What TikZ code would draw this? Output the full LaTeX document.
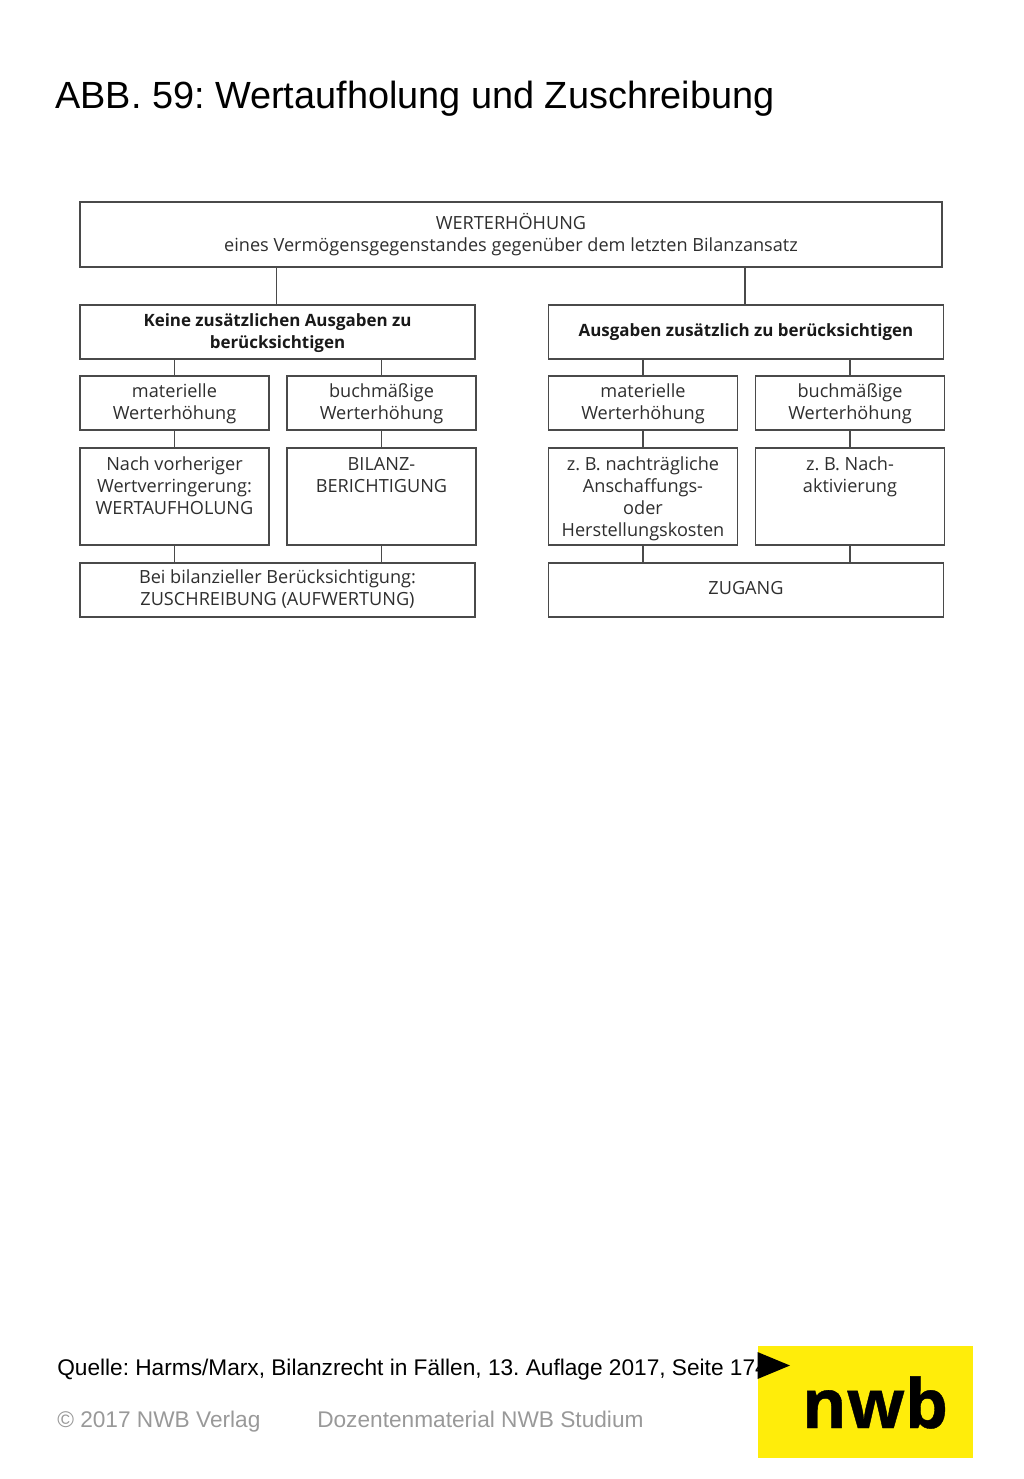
\documentclass[tikz,border=0pt]{standalone}
\usepackage{fontspec}
\setmainfont{Liberation Sans}
\newfontfamily\boxfont{Open Sans}
\newfontfamily\logofont[FakeBold=0.6]{Open Sans Bold}
\frenchspacing
\usetikzlibrary{calc}
\definecolor{ink}{HTML}{2E2E2E}
\definecolor{rule}{HTML}{4A4A4A}
\definecolor{nwbyellow}{HTML}{FFED0A}
\definecolor{foot}{HTML}{999999}
\newcommand\lnA{\rule{0pt}{14.55pt}}
\newcommand\lnT{\rule{0pt}{16.05pt}}
\newcommand\lnZ[1]{\rule[-#1]{0pt}{#1}}
\tikzset{
  x=0.75pt,y=-0.75pt,
  bx/.style={draw=rule,line width=1.2pt,rectangle,inner sep=0pt,align=center,text=ink,
     font=\boxfont\fontsize{13.6pt}{16.5pt}\selectfont},
  bxbold/.style={bx,font=\boxfont\bfseries\fontsize{12.7pt}{16.5pt}\selectfont,text=black!90},
  wide/.style={minimum width=296.5pt,minimum height=40.5pt},
  small/.style={minimum width=141.75pt,minimum height=40.5pt},
  tall/.style={minimum width=141.75pt,minimum height=72.75pt},
  conn/.style={draw=rule,line width=1.4pt},
  plain/.style={inner sep=0pt,anchor=base west},
}
\begin{document}
\begin{tikzpicture}
\useasboundingbox (0,0) rectangle (1024,1479);
\node[plain,font=\fontsize{28.4pt}{34pt}\selectfont,text=black] (title) at (55,108.3) {ABB. 59: Wertaufholung und Zuschreibung};

\node[bx,minimum width=646.5pt,minimum height=48.75pt] (top) at (511,234.5) {\lnA WERTERHÖHUNG\\eines Vermögensgegenstandes gegenüber dem letzten Bilanzansatz\lnZ{4.95pt}};

\node[bxbold,wide] (keine) at (277.5,332) {\lnA Keine zusätzlichen Ausgaben zu\\berücksichtigen\lnZ{6.45pt}};
\node[bxbold,wide] (ausg) at (746,332) {\lnA Ausgaben zusätzlich zu berücksichtigen\lnZ{7.95pt}};

\node[bx,small] (mat1) at (174.5,403) {\lnA materielle\\Werterhöhung\lnZ{6.45pt}};
\node[bx,small] (buch1) at (381.5,403) {\lnA buchmäßige\\Werterhöhung\lnZ{6.45pt}};
\node[bx,small] (mat2) at (643,403) {\lnA materielle\\Werterhöhung\lnZ{6.45pt}};
\node[bx,small] (buch2) at (850,403) {\lnA buchmäßige\\Werterhöhung\lnZ{6.45pt}};

\node[bx,tall] (nach) at (174.5,496.5) {\lnT Nach vorheriger\\Wertverringerung:\\WERTAUFHOLUNG\\~\lnZ{4.95pt}};
\node[bx,tall] (bilanz) at (381.5,496.5) {\lnT BILANZ-\\BERICHTIGUNG\\~\\~\lnZ{4.95pt}};
\node[bx,tall] (nachtr) at (643,496.5) {\lnT z. B. nachträgliche\\Anschaffungs-\\oder\\Herstellungskosten\lnZ{4.95pt}};
\node[bx,tall] (aktiv) at (850,496.5) {\lnT z. B. Nach-\\aktivierung\\~\\~\lnZ{4.95pt}};

\node[bx,wide] (zuschr) at (277.5,590) {\lnA Bei bilanzieller Berücksichtigung:\\ZUSCHREIBUNG (AUFWERTUNG)\lnZ{7.95pt}};
\node[bx,wide] (zugang) at (746,590) {\lnA ZUGANG\lnZ{7.95pt}};

\draw[conn] ([xshift=-0.75pt]keine.north) -- ([xshift=-0.75pt]keine.north |- top.south);
\draw[conn] ([xshift=-0.75pt]ausg.north) -- ([xshift=-0.75pt]ausg.north |- top.south);
\foreach \a/\b in {mat1/keine,buch1/keine,mat2/ausg,buch2/ausg}
  \draw[conn] (\a.north) -- (\a.north |- \b.south);
\foreach \a/\b in {mat1/nach,buch1/bilanz,mat2/nachtr,buch2/aktiv}
  \draw[conn] (\a.south) -- (\b.north);
\foreach \a/\b in {nach/zuschr,bilanz/zuschr,nachtr/zugang,aktiv/zugang}
  \draw[conn] (\a.south) -- (\a.south |- \b.north);

\node[plain,font=\fontsize{17pt}{20pt}\selectfont,text=black] (quelle) at (57,1375.5) {Quelle: Harms/Marx, Bilanzrecht in Fällen, 13. Auflage 2017, Seite 174};
\node[plain,font=\fontsize{17pt}{20pt}\selectfont,text=foot] (copy) at (57,1427) {© 2017 NWB Verlag};
\node[plain,font=\fontsize{17pt}{20pt}\selectfont,text=foot] (doz) at (317,1427) {Dozentenmaterial NWB Studium};

\node[fill=nwbyellow,inner sep=0pt,minimum width=161.25pt,minimum height=84pt] (logo) at (865,1402) {};
\node[inner sep=0pt,anchor=base,font=\logofont\fontsize{51pt}{60pt}\selectfont,text=black] (nwb) at (875,1428) {nwb};
\fill[black] (757.5,1352) -- (790,1365.5) -- (757.5,1379) -- cycle;
\end{tikzpicture}
\end{document}
